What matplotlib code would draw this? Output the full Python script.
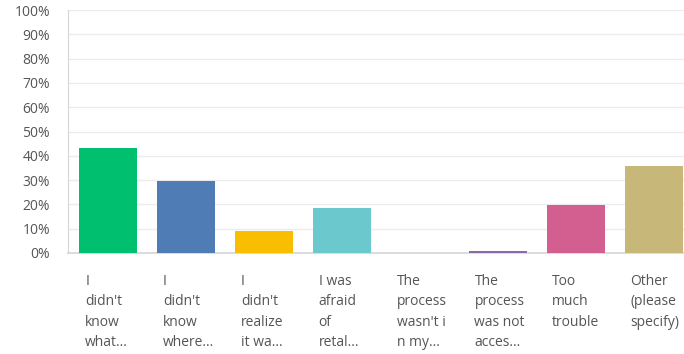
import matplotlib.pyplot as plt
from matplotlib.ticker import PercentFormatter

# answer choices, already wrapped/truncated the way the survey tool shows them
labels = [
    "I\ndidn't\nknow\nwhat...",
    "I\ndidn't\nknow\nwhere...",
    "I\ndidn't\nrealize\nit wa...",
    "I was\nafraid\nof\nretal...",
    "The\nprocess\nwasn't i\nn my...",
    "The\nprocess\nwas not\nacces...",
    "Too\nmuch\ntrouble",
    "Other\n(please\nspecify)",
]
percents = [43.2, 29.6, 9.0, 18.5, 0.0, 0.8, 19.8, 35.8]
colors = ["#00bf6f", "#507cb6", "#f9be00", "#6bc8cd",
          "#ff8b4f", "#8a6aa8", "#d25f90", "#c7b879"]
y_ticks = list(range(0, 101, 10))

plt.rcParams['font.family'] = ['Open Sans', 'DejaVu Sans']

fig = plt.figure(figsize=(6.84, 3.54), dpi=100)
ax = fig.add_axes([68 / 684, 1 - 253 / 354, 626 / 684, 243 / 354])

x = range(len(percents))
ax.bar(x, percents, width=0.745, color=colors, zorder=3)

ax.set_xlim(-0.52, len(percents) - 0.48)
ax.set_ylim(0, 100)
ax.set_yticks(y_ticks)
ax.yaxis.set_major_formatter(PercentFormatter(decimals=0))
ax.tick_params(axis='y', length=0, pad=13, labelsize=10, labelcolor='#555555')
ax.set_xticks([])

ax.grid(axis='y', color='#ececec', linewidth=1.0, zorder=0)
for side in ('top', 'right'):
    ax.spines[side].set_visible(False)
ax.spines['left'].set_color('#d6d6d6')
ax.spines['bottom'].set_color('#d6d6d6')
ax.spines['bottom'].set_linewidth(1.2)

# multi-line category labels, left-aligned under each bar
for i, lab in enumerate(labels):
    ax.annotate(lab, xy=(i - 0.3, 0), xycoords=('data', 'axes fraction'),
                xytext=(0, -15), textcoords='offset points',
                ha='left', va='top', fontsize=10, color='#555555',
                linespacing=1.5)

fig.savefig("out.png", dpi=100)
